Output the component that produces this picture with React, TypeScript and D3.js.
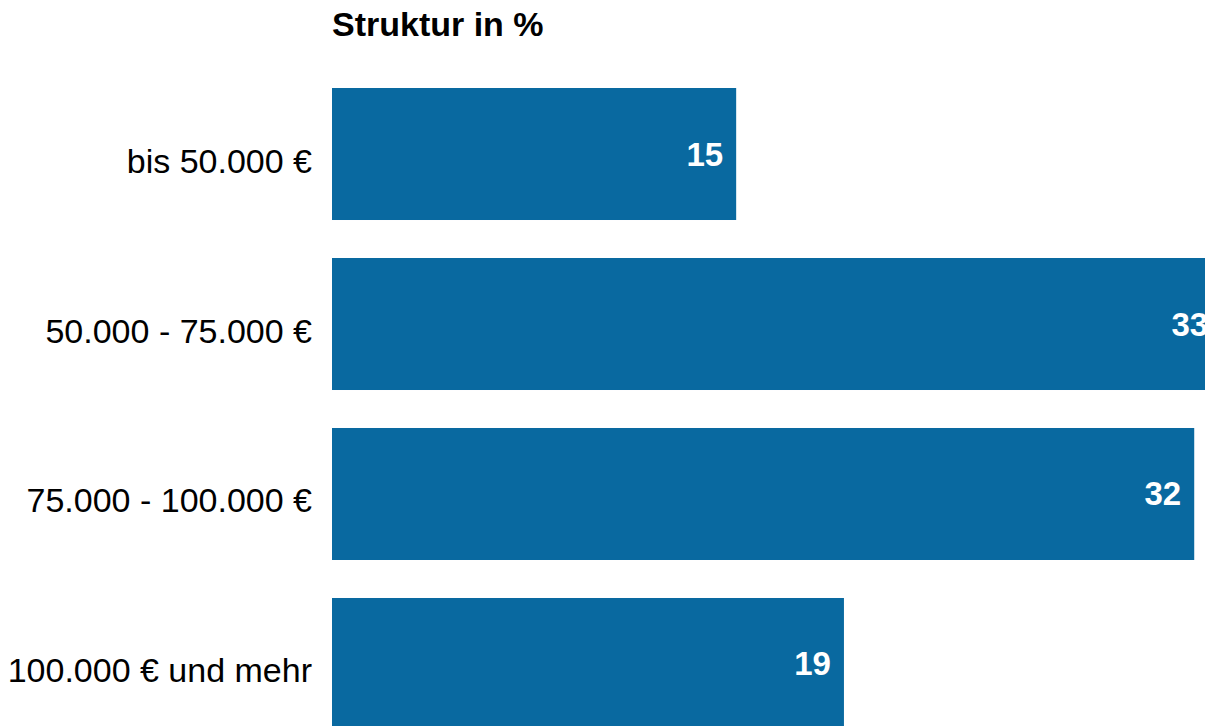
import React from 'react';
import * as d3 from 'd3';

const categories = ['bis 50.000 €', '50.000 - 75.000 €', '75.000 - 100.000 €', '100.000 € und mehr'];
const values = [15, 33, 32, 19];
const title = 'Struktur in %';

const WIDTH = 1205;
const HEIGHT = 726;
const BAR_COLOR = '#0969a0';
const FONT = 'Liberation Sans, Arial, sans-serif';

export default function App() {
  const x = d3.scaleLinear().domain([0, 32.4]).range([332, 1205]);
  const y = d3.scaleBand<string>()
    .domain(categories)
    .range([88, 730])
    .paddingInner(0.2235)
    .paddingOuter(0);

  return (
    <svg
      width={WIDTH}
      height={HEIGHT}
      style={{ position: 'absolute', top: 0, left: 0, display: 'block' }}
      fontFamily={FONT}
    >
      <text x={332} y={35.5} fontSize={34} fontWeight="bold" fill="#000">
        {title}
      </text>
      {categories.map((c, i) => {
        const y0 = y(c) ?? 0;
        const cy = y0 + y.bandwidth() / 2;
        return (
          <g key={c}>
            <rect
              x={x(0)}
              y={y0}
              width={x(values[i]) - x(0)}
              height={y.bandwidth()}
              fill={BAR_COLOR}
            />
            <text
              x={312}
              y={cy}
              dy={18.5}
              textAnchor="end"
              fontSize={34}
              fill="#000"
            >
              {c}
            </text>
            <text
              x={x(values[i]) - 13}
              y={cy}
              dy={11.5}
              textAnchor="end"
              fontSize={33}
              fontWeight="bold"
              fill="#fff"
            >
              {values[i]}
            </text>
          </g>
        );
      })}
    </svg>
  );
}
